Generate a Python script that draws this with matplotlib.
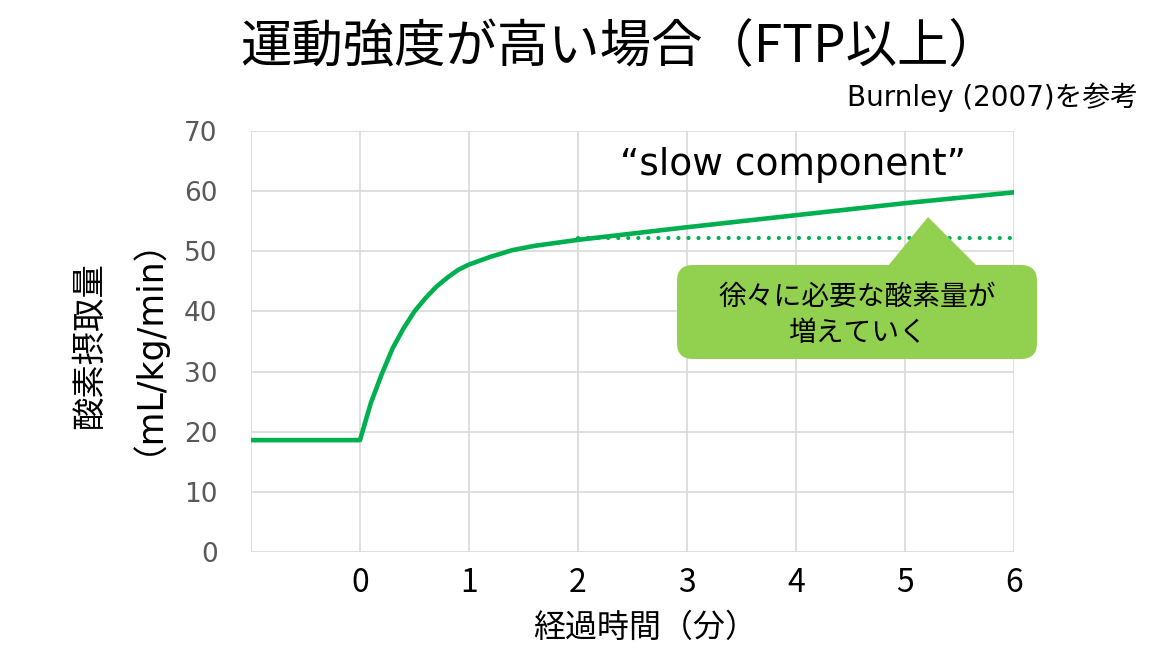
import matplotlib
matplotlib.use("Agg")
import matplotlib.pyplot as plt
from matplotlib.patches import FancyBboxPatch, Polygon

plt.rcParams['font.family'] = ['Noto Sans CJK JP', 'DejaVu Sans']
WIDE = ['DejaVu Sans', 'Noto Sans CJK JP']

# ---- data ----
time_min = [-1.0, 0.0, 0.1, 0.2, 0.3, 0.4, 0.5, 0.6, 0.7, 0.8, 0.9, 1.0,
            1.2, 1.4, 1.6, 1.8, 2.0, 3.0, 4.0, 5.0, 6.0]
vo2 = [18.6, 18.6, 24.8, 29.6, 33.9, 37.2, 40.0, 42.2, 44.1, 45.6, 46.9, 47.8,
       49.1, 50.2, 50.9, 51.4, 51.9, 54.0, 56.0, 58.0, 59.8]
plateau_time = [2.0, 6.0]
plateau_vo2 = [52.2, 52.2]

x_ticks = [-1, 0, 1, 2, 3, 4, 5, 6]
x_ticklabels = ['', '0', '1', '2', '3', '4', '5', '6']
y_ticks = [0, 10, 20, 30, 40, 50, 60, 70]

title = '運動強度が高い場合（FTP以上）'
source = 'Burnley (2007)を参考'
note = '“slow component”'
callout = '徐々に必要な酸素量が\n増えていく'
xlabel = '経過時間（分）'
ylabel_1 = '酸素摂取量'
ylabel_2 = '（mL/kg/min）'

GREEN = '#00B050'
LIGHT_GREEN = '#92D050'
GRID = '#D9D9D9'

W, H = 1171, 657
fig = plt.figure(figsize=(W / 100, H / 100), dpi=100)
ax = fig.add_axes([251 / W, 1 - 552 / H, (1014 - 251) / W, (552 - 131) / H])

ax.plot(time_min, vo2, color=GREEN, lw=3.3, solid_joinstyle='round', zorder=3)
ax.plot(plateau_time, plateau_vo2, color=GREEN, lw=3.0,
        linestyle=(0, (0.01, 2.4)), dash_capstyle='round', zorder=2)

ax.set_xlim(-1, 6)
ax.set_ylim(0, 70)
ax.set_xticks(x_ticks)
ax.set_xticklabels(x_ticklabels)
ax.set_yticks(y_ticks)
ax.grid(True, color=GRID, lw=1.2)
ax.set_axisbelow(True)
for s in ax.spines.values():
    s.set_visible(False)
ax.tick_params(axis='both', length=0)
ax.tick_params(axis='x', labelsize=23, labelcolor='black', pad=11)
ax.tick_params(axis='y', labelsize=19, labelcolor='#595959', pad=24)
for lab in ax.get_yticklabels():
    lab.set_family(WIDE)

# callout (axes fraction coords)
aw, ah = 1014 - 251, 552 - 131
def axf(px, py):
    return ((px - 251) / aw, (552 - py) / ah)

x0, y0 = axf(677, 359)
x1, y1 = axf(1037, 265)
box = FancyBboxPatch((x0, y0), x1 - x0, y1 - y0,
                     boxstyle='round,pad=0,rounding_size=%f' % (16 / aw),
                     mutation_aspect=aw / ah,
                     transform=ax.transAxes, facecolor=LIGHT_GREEN,
                     edgecolor='none', clip_on=False, zorder=4)
ax.add_patch(box)
tri = Polygon([axf(888, 266), axf(928, 217), axf(977, 266)], closed=True,
              transform=ax.transAxes, facecolor=LIGHT_GREEN, edgecolor='none',
              clip_on=False, zorder=4)
ax.add_patch(tri)
cx, cy = axf(857, 315)
ax.text(cx, cy, callout, transform=ax.transAxes, ha='center', va='center',
        fontsize=20, color='black', linespacing=1.25, zorder=5)

tx, ty = axf(793, 165)
ax.text(tx, ty, note, transform=ax.transAxes, ha='center', va='center',
        fontsize=27, color='black', family=WIDE, zorder=5)

fig.text(620 / W, 1 - 47 / H, title, ha='center', va='center', fontsize=37)
fig.text(1138 / W, 1 - 97 / H, source, ha='right', va='center', fontsize=20,
         family=WIDE)
fig.text(645 / W, 1 - 628 / H, xlabel, ha='center', va='center', fontsize=23)
fig.text(89 / W, 1 - 346 / H, ylabel_1, ha='center', va='center', fontsize=24,
         rotation=90)
fig.text(129 / W, 1 - 328 / H, ylabel_2, ha='center', va='center', fontsize=25,
         rotation=90, family=WIDE)

fig.savefig('out.png', dpi=100)
